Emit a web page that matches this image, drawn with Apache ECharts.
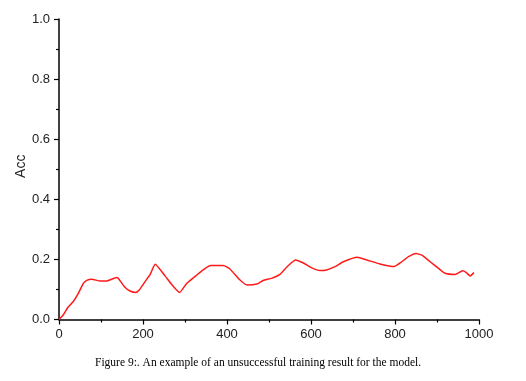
<!DOCTYPE html>
<html><head><meta charset="utf-8">
<script src="https://cdn.jsdelivr.net/npm/echarts@6/dist/echarts.min.js"></script>
<style>html,body{margin:0;padding:0;background:#fff}#c{width:526px;height:381px}</style>
</head><body><div id="c"></div>
<script>
const epochs = [0,10,21,34,46,58,66,78,98,113,137,141,157,169,183,191,205,217,229,252,268,287,304,328,348,361,391,407,429,448,471,486,506,526,542,563,582,602,621,637,657,677,710,733,764,798,814,832,850,864,883,903,919,943,961,969,979,988];
const acc = [0,0.015,0.04,0.06,0.087,0.12,0.13,0.134,0.128,0.128,0.14,0.137,0.107,0.095,0.09,0.098,0.126,0.15,0.184,0.146,0.117,0.09,0.12,0.148,0.17,0.18,0.18,0.168,0.134,0.115,0.118,0.13,0.137,0.15,0.174,0.198,0.188,0.172,0.163,0.165,0.176,0.192,0.207,0.198,0.185,0.176,0.19,0.209,0.22,0.214,0.193,0.171,0.154,0.15,0.162,0.157,0.145,0.156];
const caption = "Figure 9:. An example of an unsuccessful training result for the model.";
const yName = "Acc";

const chart = echarts.init(document.getElementById('c'), null, {renderer:'canvas'});
const axisCommon = {
  axisLine:{show:true,onZero:false,lineStyle:{color:'#000',width:1.5}},
  axisTick:{show:true,inside:false,length:5,lineStyle:{color:'#000',width:1.2}},
  minorTick:{show:true,splitNumber:2,length:3,lineStyle:{color:'#000',width:1.2}},
  splitLine:{show:false},
  axisLabel:{color:'#222',fontFamily:'Liberation Sans, Arial',fontSize:13}
};
chart.setOption({
  animation:false,
  backgroundColor:'#fff',
  title:{text:caption,left:90,top:352,textStyle:{fontFamily:'Liberation Serif, Times New Roman',fontSize:11.5,fontWeight:'normal',color:'#000'}},
  grid:{left:59,right:47,top:19,bottom:61.5,containLabel:false},
  xAxis:Object.assign({type:'value',min:0,max:1000,interval:200},axisCommon,{axisLabel:Object.assign({},axisCommon.axisLabel,{margin:8,formatter:v=>String(v)})}),
  yAxis:Object.assign({type:'value',min:0,max:1,interval:0.2,name:yName,nameLocation:'middle',nameGap:31,nameMoveOverlap:false,
    nameTextStyle:{fontFamily:'Liberation Sans, Arial',fontSize:14,color:'#222',padding:[0,0,0,6]}},axisCommon,
    {axisLabel:Object.assign({},axisCommon.axisLabel,{margin:9,formatter:v=>v.toFixed(1)})}),
  series:[{type:'line',data:epochs.map((e,i)=>[e,acc[i]]),showSymbol:false,smooth:0.15,
    lineStyle:{color:'#ff1a1a',width:1.5}}]
});
</script></body></html>
